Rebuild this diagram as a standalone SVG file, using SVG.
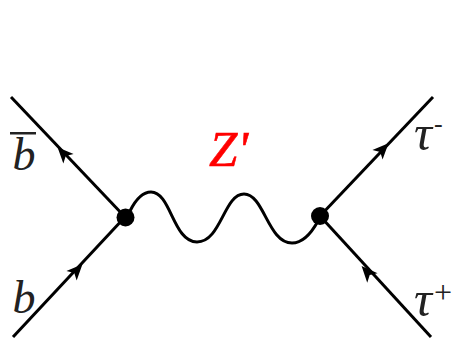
<svg xmlns="http://www.w3.org/2000/svg" width="453" height="338" viewBox="0 0 453 338">
<style>
.l{fill:none;stroke:#000;stroke-width:3;stroke-linecap:butt}
.a{fill:#000;stroke:none}
.v{fill:#000}
.t{font-family:"Liberation Serif",serif;font-style:italic;fill:#222}
.s{font-family:"Liberation Serif",serif;fill:#222}
</style>
<defs><path id="h" d="M8 0L-8 -7L-4 0L-8 7Z"/></defs>
<rect width="453" height="338" fill="#fff"/>
<g id="connectors">
<path class="l" d="M11 97L125 217"/>
<path class="l" d="M13 337L125 217"/>
<path class="l" d="M433 97L320 216"/>
<path class="l" d="M431 337L320 216"/>
<path class="l" d="M130 211C136 199 143 192 151 192C171 192 173 242 197 242C221 242 224 194 244 194C264 194 268 243 292 243C303 243 312 232 318 221"/>
<use href="#h" class="a" transform="translate(63 153) rotate(-133)"/>
<use href="#h" class="a" transform="translate(77 270) rotate(-47)"/>
<use href="#h" class="a" transform="translate(383 149) rotate(-46.500)"/>
<use href="#h" class="a" transform="translate(367 272) rotate(-132.500)"/>
</g>
<g id="vertex-left"><circle class="v" cx="125.500" cy="217.500" r="9"/></g>
<g id="vertex-right"><circle class="v" cx="320" cy="216" r="9"/></g>
<g id="label-bbar"><rect x="10" y="132" width="26" height="2.500" fill="#222"/><text class="t" x="12.500" y="170" font-size="46">b</text></g>
<g id="label-b"><text class="t" x="12.500" y="313" font-size="46">b</text></g>
<g id="label-z"><text x="209" y="166" font-size="51" font-family="Liberation Serif,serif" font-style="italic" fill="#f00" stroke="#f00" stroke-width="0.600">Z'</text></g>
<g id="label-tau-minus"><text class="t" x="414" y="150" font-size="50">τ</text><text class="s" x="434" y="132" font-size="26">-</text></g>
<g id="label-tau-plus"><text class="t" x="414" y="316" font-size="50">τ</text><text class="s" x="434" y="303" font-size="32">+</text></g>
</svg>
